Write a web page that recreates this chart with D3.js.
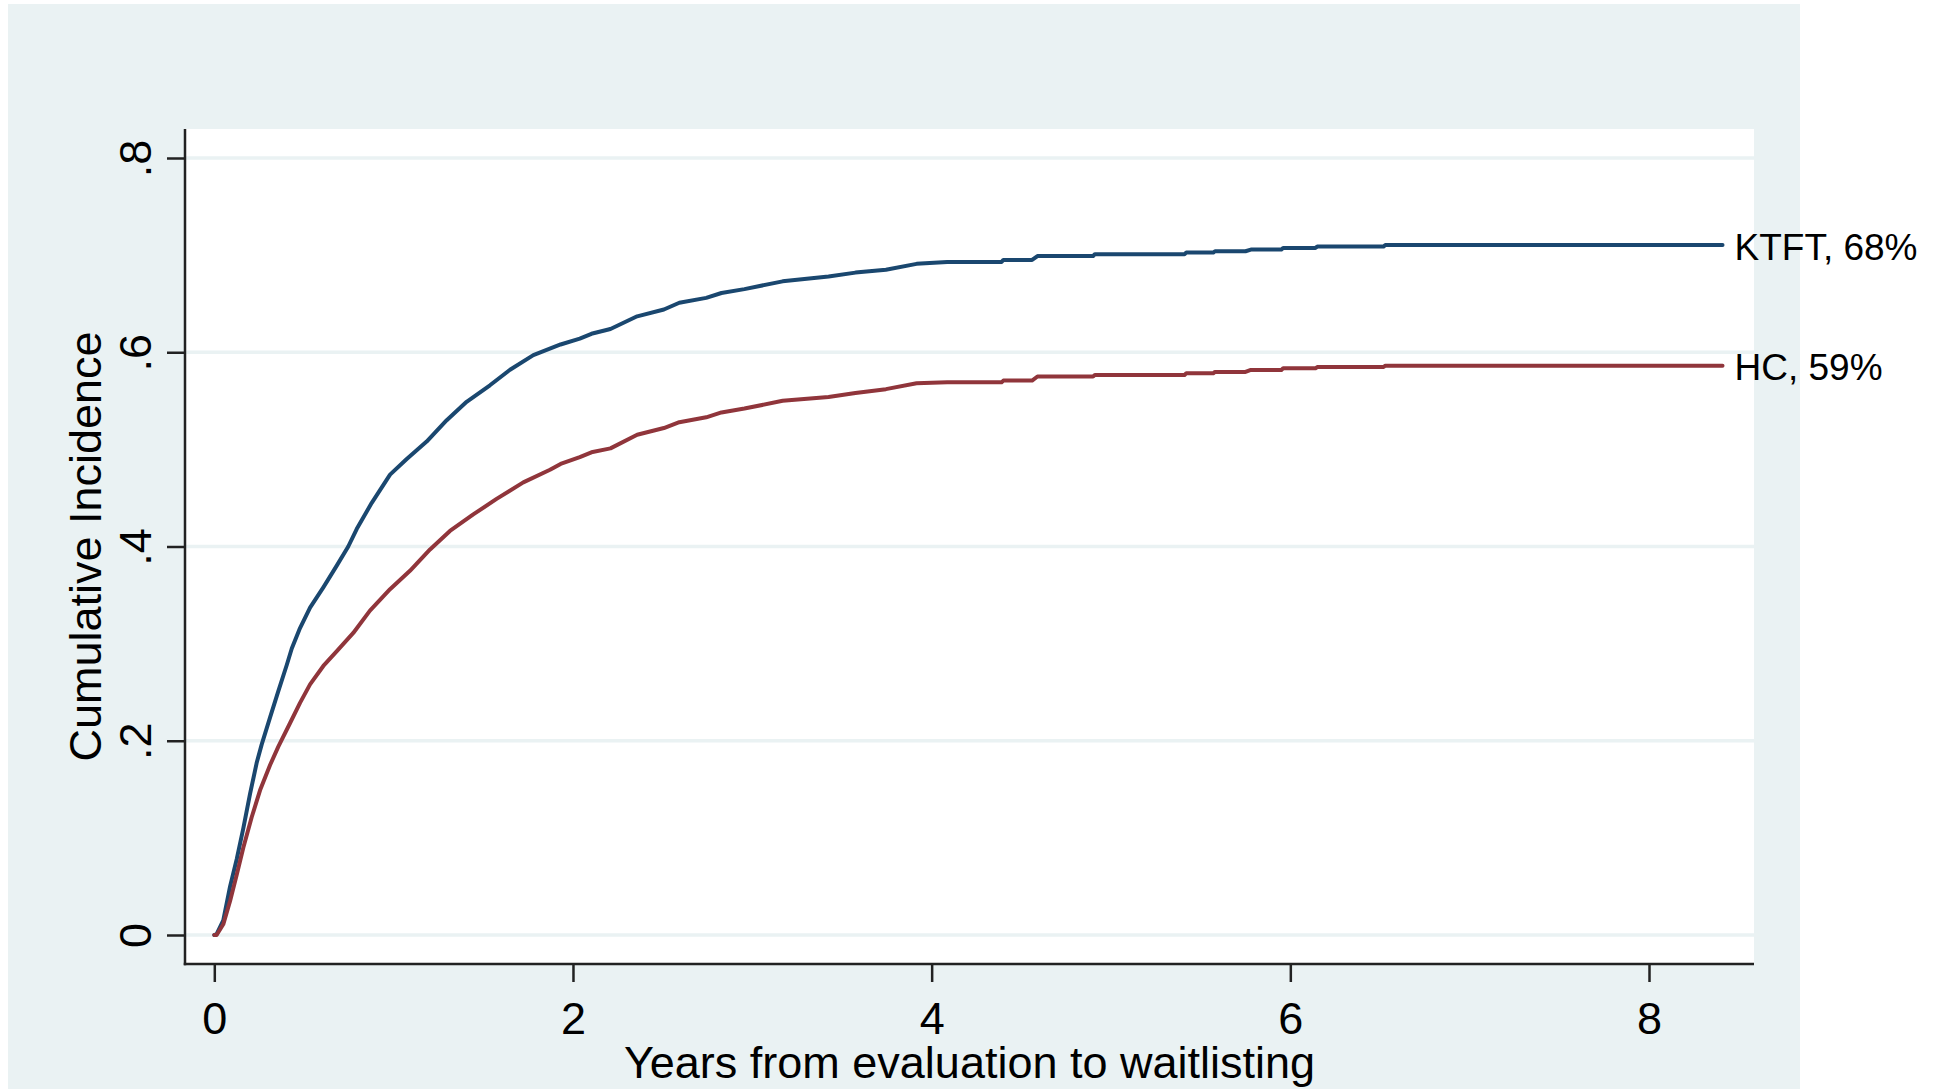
<!DOCTYPE html>
<html>
<head>
<meta charset="utf-8">
<script src="https://cdn.jsdelivr.net/npm/d3@7"></script>
<style>
  html, body { margin: 0; padding: 0; background: #fff; }
  svg { display: block; font-family: "Liberation Sans", Arial, sans-serif; }
</style>
</head>
<body>
<svg id="chart"></svg>
<script>
// cumulative incidence curves: [years, incidence]
const ktft = [
  [0, 0], [0.013, 0.001], [0.05, 0.015], [0.088, 0.05], [0.125, 0.078], [0.162, 0.11],
  [0.199, 0.145], [0.236, 0.177], [0.264, 0.196], [0.311, 0.224], [0.357, 0.251],
  [0.404, 0.278], [0.432, 0.295], [0.478, 0.316], [0.534, 0.337], [0.608, 0.358],
  [0.682, 0.38], [0.747, 0.4], [0.794, 0.418], [0.878, 0.445], [0.98, 0.474],
  [1.073, 0.49], [1.184, 0.508], [1.296, 0.53], [1.407, 0.549], [1.537, 0.566],
  [1.649, 0.582], [1.779, 0.597], [1.931, 0.608], [2.038, 0.614], [2.103, 0.619],
  [2.209, 0.624], [2.358, 0.637], [2.507, 0.644], [2.593, 0.651], [2.743, 0.656],
  [2.828, 0.661], [2.956, 0.665], [3.169, 0.673], [3.425, 0.678], [3.575, 0.682],
  [3.745, 0.685], [3.916, 0.691], [4.087, 0.693], [4.39, 0.693], [4.40, 0.695],
  [4.56, 0.695], [4.59, 0.699], [4.90, 0.699], [4.91, 0.701], [5.41, 0.701],
  [5.42, 0.7026], [5.57, 0.7026], [5.58, 0.704], [5.75, 0.704], [5.78, 0.7057],
  [5.95, 0.7057], [5.96, 0.7074], [6.14, 0.7074], [6.15, 0.7088], [6.52, 0.7088],
  [6.53, 0.7105], [8.41, 0.7105]
];
const hc = [
  [0, 0], [0.013, 0], [0.05, 0.011], [0.088, 0.035], [0.125, 0.062], [0.162, 0.09],
  [0.208, 0.121], [0.255, 0.149], [0.311, 0.175], [0.357, 0.194], [0.422, 0.218],
  [0.478, 0.239], [0.534, 0.258], [0.608, 0.277], [0.682, 0.292], [0.775, 0.311],
  [0.868, 0.334], [0.98, 0.356], [1.091, 0.375], [1.203, 0.397], [1.314, 0.416],
  [1.444, 0.433], [1.574, 0.449], [1.723, 0.466], [1.872, 0.479], [1.931, 0.485],
  [2.038, 0.492], [2.103, 0.497], [2.209, 0.501], [2.358, 0.515], [2.507, 0.522],
  [2.593, 0.528], [2.743, 0.533], [2.828, 0.538], [2.956, 0.542], [3.169, 0.55],
  [3.425, 0.554], [3.575, 0.558], [3.745, 0.562], [3.916, 0.568], [4.087, 0.569],
  [4.39, 0.569], [4.40, 0.5708], [4.56, 0.5708], [4.59, 0.575], [4.90, 0.575],
  [4.91, 0.5766], [5.41, 0.5766], [5.42, 0.5783], [5.57, 0.5783], [5.58, 0.5797],
  [5.75, 0.5797], [5.78, 0.5818], [5.95, 0.5818], [5.96, 0.5835], [6.14, 0.5835],
  [6.15, 0.5848], [6.52, 0.5848], [6.53, 0.5862], [8.41, 0.5862]
];
const seriesNames = ["KTFT, 68%", "HC, 59%"];
const xTicks = [0, 2, 4, 6, 8];
const yTicks = [0, 0.2, 0.4, 0.6, 0.8];
const yTickLabels = ["0", ".2", ".4", ".6", ".8"];

const W = 1940, H = 1089;
const plot = { left: 185, right: 1754, top: 129, bottom: 964 };
const bgColor = "#eaf2f3";
const colors = ["#1a476f", "#90353b"];

const svg = d3.select("#chart").attr("width", W).attr("height", H);

// graph region
svg.append("rect").attr("x", 8).attr("y", 4).attr("width", 1792).attr("height", H - 4)
  .attr("fill", bgColor);
// plot region
svg.append("rect").attr("x", plot.left).attr("y", plot.top)
  .attr("width", plot.right - plot.left).attr("height", plot.bottom - plot.top)
  .attr("fill", "#fff");

const x = d3.scaleLinear().domain([0, 8]).range([214.3, 1649]);
const y = d3.scaleLinear().domain([0, 0.8]).range([935, 158]);

// gridlines
svg.append("g").selectAll("line").data(yTicks).join("line")
  .attr("x1", plot.left).attr("x2", plot.right)
  .attr("y1", d => y(d)).attr("y2", d => y(d))
  .attr("stroke", bgColor).attr("stroke-width", 3.5);

// curves
const line = d3.line().x(d => x(d[0])).y(d => y(d[1]));
[ktft, hc].forEach((s, i) => {
  svg.append("path").datum(s)
    .attr("d", line)
    .attr("fill", "none")
    .attr("stroke", colors[i])
    .attr("stroke-width", 4)
    .attr("stroke-linejoin", "round")
    .attr("stroke-linecap", "round");
});

// y axis
const yAxis = svg.append("g").attr("transform", `translate(${plot.left},0)`)
  .call(d3.axisLeft(y).tickValues(yTicks).tickFormat((d, i) => yTickLabels[i])
    .tickSize(18).tickSizeOuter(0));
yAxis.select(".domain").remove();
yAxis.selectAll(".tick line").attr("stroke", "#222").attr("stroke-width", 2.5);
yAxis.selectAll(".tick text")
  .attr("transform", "rotate(-90)")
  .attr("x", 0).attr("y", -34).attr("dy", null)
  .attr("text-anchor", "middle")
  .attr("font-size", 45).attr("fill", "#000")
  .attr("font-family", "Liberation Sans, Arial, sans-serif");

// x axis
const xAxis = svg.append("g").attr("transform", `translate(0,${plot.bottom})`)
  .call(d3.axisBottom(x).tickValues(xTicks).tickFormat(d3.format("d"))
    .tickSize(18).tickSizeOuter(0));
xAxis.select(".domain").remove();
xAxis.selectAll(".tick line").attr("stroke", "#222").attr("stroke-width", 2.5);
xAxis.selectAll(".tick text")
  .attr("y", 70).attr("dy", null)
  .attr("font-size", 45).attr("fill", "#000")
  .attr("font-family", "Liberation Sans, Arial, sans-serif");

// axis lines along plot region edges
svg.append("line").attr("x1", plot.left).attr("x2", plot.left)
  .attr("y1", plot.top).attr("y2", plot.bottom + 1.25)
  .attr("stroke", "#222").attr("stroke-width", 2.5);
svg.append("line").attr("x1", plot.left - 1.25).attr("x2", plot.right)
  .attr("y1", plot.bottom).attr("y2", plot.bottom)
  .attr("stroke", "#222").attr("stroke-width", 2.5);

// axis titles
svg.append("text")
  .attr("x", (plot.left + plot.right) / 2).attr("y", 1078)
  .attr("text-anchor", "middle").attr("font-size", 45)
  .text("Years from evaluation to waitlisting");
svg.append("text")
  .attr("transform", `translate(101,${(plot.top + plot.bottom) / 2}) rotate(-90)`)
  .attr("text-anchor", "middle").attr("font-size", 45)
  .text("Cumulative Incidence");

// end labels
[ktft, hc].forEach((s, i) => {
  const last = s[s.length - 1];
  svg.append("text")
    .attr("x", x(last[0]) + 12).attr("y", y(last[1]))
    .attr("dy", "0.4em")
    .attr("font-size", 37).attr("fill", "#000")
    .text(seriesNames[i]);
});
</script>
</body>
</html>
